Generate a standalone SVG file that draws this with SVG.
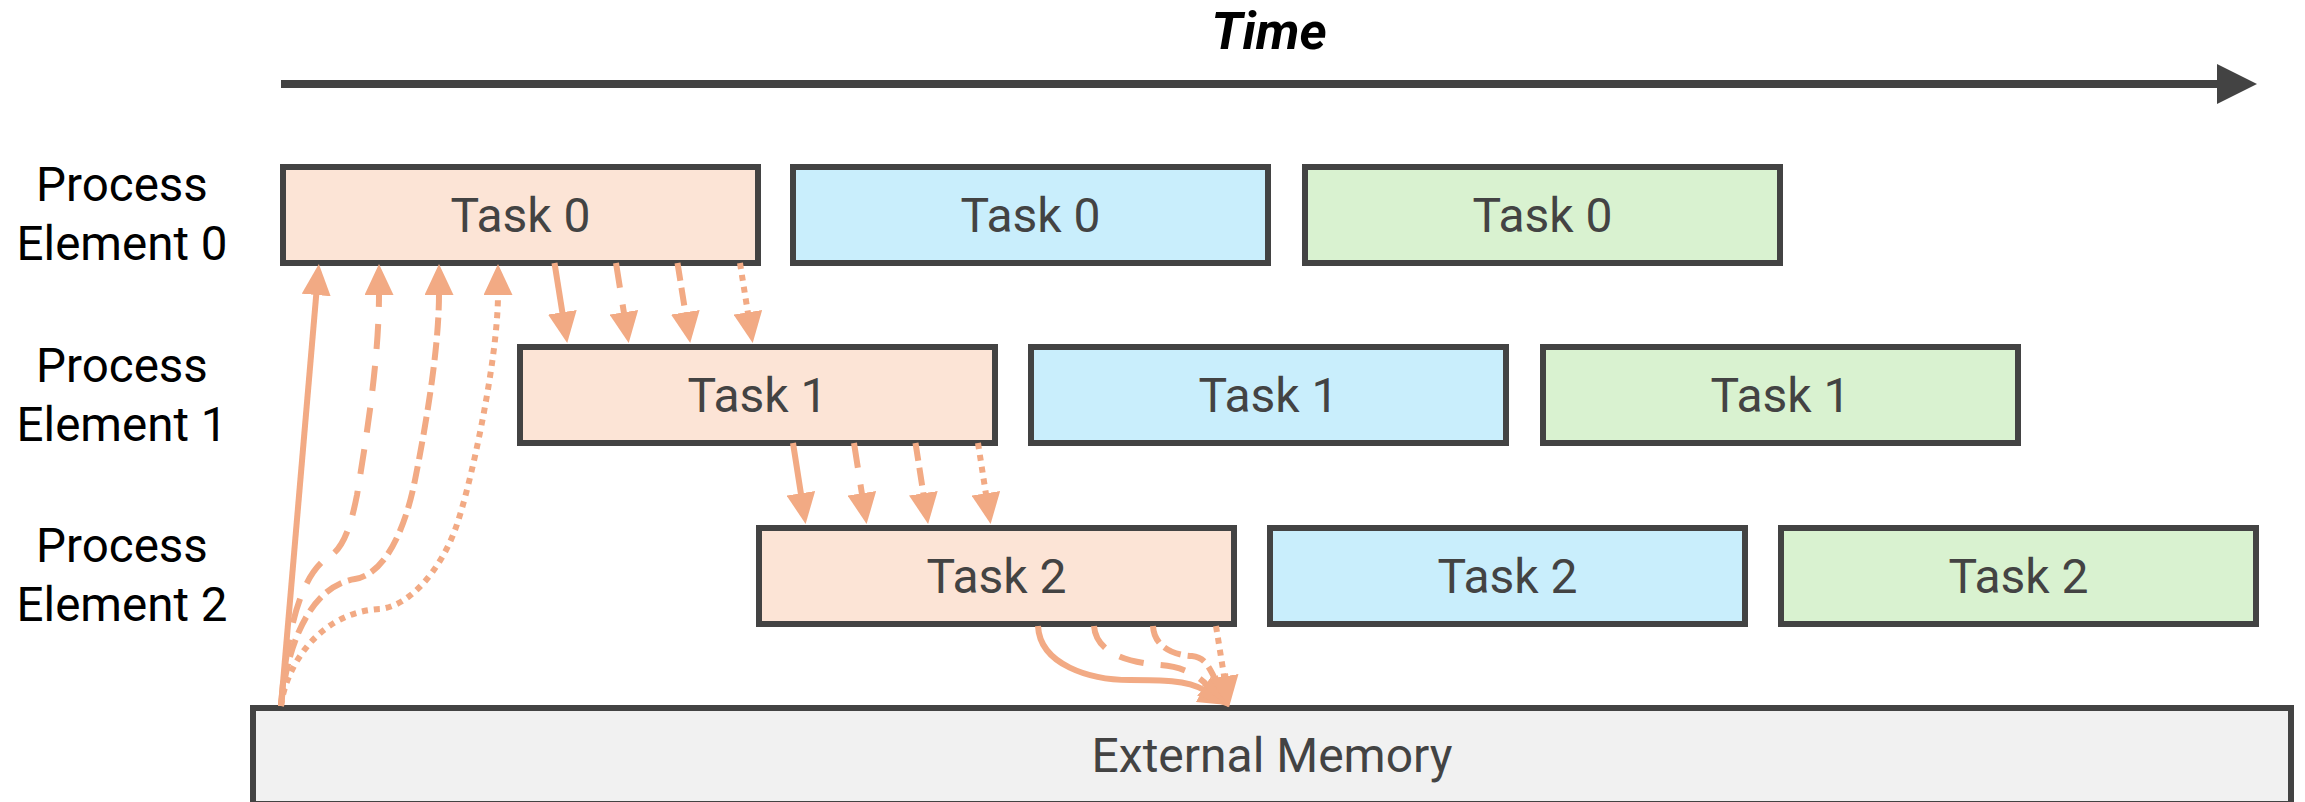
<svg xmlns="http://www.w3.org/2000/svg" width="2305" height="802" viewBox="0 0 2305 802">
  <style>
    .task { stroke: #434343; stroke-width: 6; }
    .pe { fill: #fce4d6; }
    .blue { fill: #c9eefc; }
    .green { fill: #d9f2d0; }
    .mem { fill: #f1f1f1; stroke: #434343; stroke-width: 6; }
    .tlabel { font-family: Roboto, "Liberation Sans", sans-serif; font-size: 48px; fill: #434343; text-anchor: middle; }
    .rowlabel { font-family: Roboto, "Liberation Sans", sans-serif; font-size: 47.5px; fill: #000000; text-anchor: middle; }
    .title { font-family: Roboto, "Liberation Sans", sans-serif; font-size: 52px; font-weight: bold; font-style: italic; fill: #000000; text-anchor: middle; }
    .flow { fill: none; stroke: #f2aa84; stroke-width: 6; marker-end: url(#head); }
    .long { stroke-dasharray: 25 17; }
    .mid { stroke-dasharray: 18 7; }
    .dot { stroke-dasharray: 6 6; }
  </style>
  <defs>
    <marker id="head" markerUnits="userSpaceOnUse" markerWidth="31" markerHeight="29" viewBox="0 0 31 29" refX="1" refY="14.5" orient="auto">
      <path d="M0,0 L31,14.5 L0,29 Z" fill="#f2aa84"/>
    </marker>
    <marker id="timeHead" markerUnits="userSpaceOnUse" markerWidth="40" markerHeight="40" viewBox="0 0 40 40" refX="1" refY="20" orient="auto">
      <path d="M0,0 L40,20 L0,40 Z" fill="#434343"/>
    </marker>
  </defs>

  <!-- time axis -->
  <g id="time-axis">
    <text class="title" x="1269" y="49">Time</text>
    <line x1="281" y1="84" x2="2218" y2="84" stroke="#434343" stroke-width="8" marker-end="url(#timeHead)"/>
  </g>

  <!-- row labels -->
  <g id="label-pe0">
    <text class="rowlabel" x="122" y="201">Process</text>
    <text class="rowlabel" x="122" y="260">Element 0</text>
  </g>
  <g id="label-pe1">
    <text class="rowlabel" x="122" y="382">Process</text>
    <text class="rowlabel" x="122" y="441">Element 1</text>
  </g>
  <g id="label-pe2">
    <text class="rowlabel" x="122" y="562">Process</text>
    <text class="rowlabel" x="122" y="621">Element 2</text>
  </g>

  <!-- process element 0 -->
  <g id="pe0-task0-a"><rect class="task pe" x="283" y="167" width="475" height="96"/><text class="tlabel" x="520.5" y="232">Task 0</text></g>
  <g id="pe0-task0-b"><rect class="task blue" x="793" y="167" width="475" height="96"/><text class="tlabel" x="1030.5" y="232">Task 0</text></g>
  <g id="pe0-task0-c"><rect class="task green" x="1305" y="167" width="475" height="96"/><text class="tlabel" x="1542.5" y="232">Task 0</text></g>

  <!-- process element 1 -->
  <g id="pe1-task1-a"><rect class="task pe" x="520" y="347" width="475" height="96"/><text class="tlabel" x="757.5" y="412">Task 1</text></g>
  <g id="pe1-task1-b"><rect class="task blue" x="1031" y="347" width="475" height="96"/><text class="tlabel" x="1268.5" y="412">Task 1</text></g>
  <g id="pe1-task1-c"><rect class="task green" x="1543" y="347" width="475" height="96"/><text class="tlabel" x="1780.5" y="412">Task 1</text></g>

  <!-- process element 2 -->
  <g id="pe2-task2-a"><rect class="task pe" x="759" y="528" width="475" height="96"/><text class="tlabel" x="996.5" y="593">Task 2</text></g>
  <g id="pe2-task2-b"><rect class="task blue" x="1270" y="528" width="475" height="96"/><text class="tlabel" x="1507.5" y="593">Task 2</text></g>
  <g id="pe2-task2-c"><rect class="task green" x="1781" y="528" width="475" height="96"/><text class="tlabel" x="2018.5" y="593">Task 2</text></g>

  <!-- shared memory -->
  <g id="external-memory">
    <rect class="mem" x="253" y="708" width="2038" height="96"/>
    <text class="tlabel" x="1272" y="772" style="font-size:48px">External Memory</text>
  </g>

  <!-- data transfers -->
  <g id="connectors">
    <!-- memory to PE0 -->
    <path class="flow" d="M281,706 L316.3,294"/>
    <path class="flow long" d="M281,706 C286,640 298,575 330,556 C345,547 352,520 357,495 C366,440 379,360 379,294"/>
    <path class="flow mid" d="M281,706 C288,635 315,585 355,579 C385,574 405,530 415,480 C425,430 439,350 439,294"/>
    <path class="flow dot" d="M281,706 C286,665 320,612 380,609 C410,606 440,570 455,530 C470,490 498,360 498,294"/>

    <!-- PE0 to PE1 -->
    <path class="flow" d="M554.5,263 L562.5,313.3"/>
    <path class="flow long" d="M616,263 L624,313.3"/>
    <path class="flow mid" d="M677.5,263 L685.5,313.3"/>
    <path class="flow dot" d="M740,263 L748,313.3"/>

    <!-- PE1 to PE2 -->
    <path class="flow" d="M793,443 L801,494.3"/>
    <path class="flow long" d="M854,443 L862,494.3"/>
    <path class="flow mid" d="M915.5,443 L923.5,494.3"/>
    <path class="flow dot" d="M978,443 L986,494.3"/>

    <!-- PE2 to memory -->
    <path class="flow" d="M1038,626 C1040,665 1090,680 1130,680 C1160,680 1187,680 1204,690"/>
    <path class="flow long" d="M1094,626 C1096,652 1125,662 1160,665 C1185,667 1198,676 1208,686"/>
    <path class="flow mid" d="M1153,626 C1154,646 1172,655 1192,656 C1203,657 1208,664 1215.5,680"/>
    <path class="flow dot" d="M1216,626 L1224.3,677.4"/>
  </g>
</svg>
